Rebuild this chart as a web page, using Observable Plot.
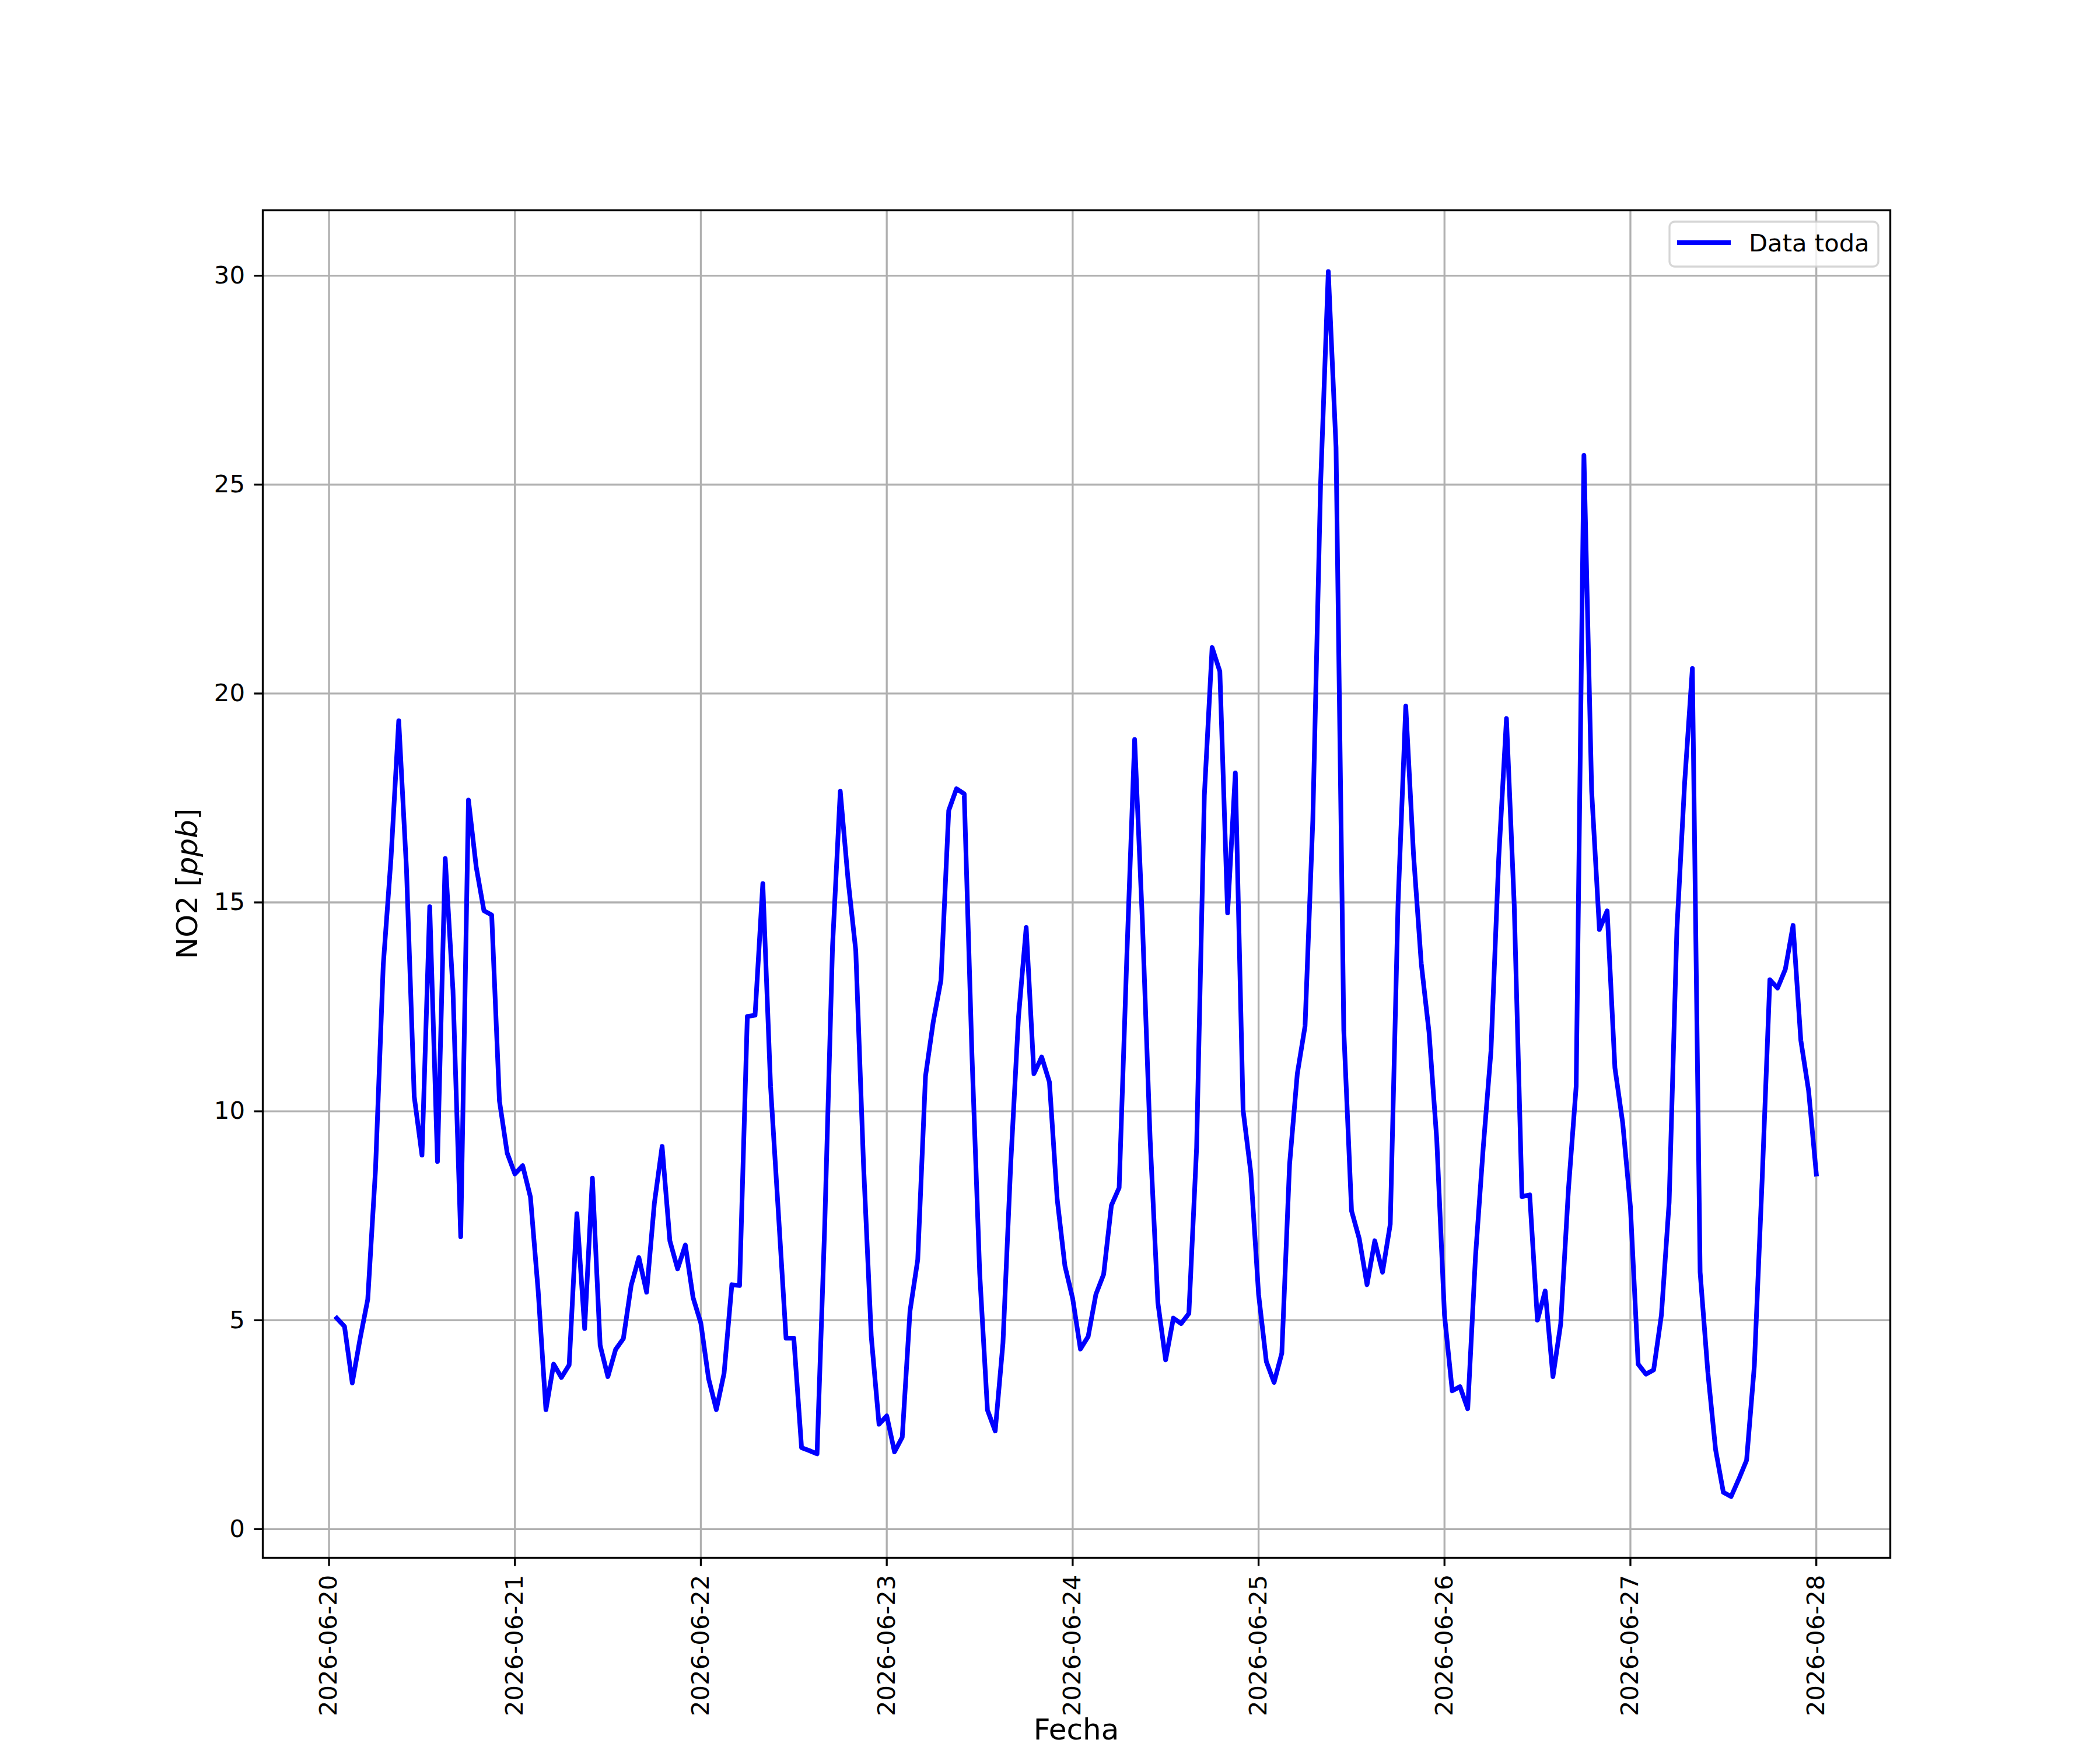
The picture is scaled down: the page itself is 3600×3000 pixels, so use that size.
<!DOCTYPE html>
<html>
<head>
<meta charset="utf-8">
<script src="https://cdn.jsdelivr.net/npm/d3@7"></script>
<script src="https://cdn.jsdelivr.net/npm/@observablehq/plot@0.6"></script>
<style>
  html, body { margin: 0; padding: 0; background: white; }
  #chart { width: 3600px; height: 3000px; }
</style>
</head>
<body>
<div id="chart"></div>
<script>
// Hourly NO2 values (ppb); each array holds 01:00 .. 24:00 of that date (UTC)
const no2_0620 = [5.05,4.85,3.5,4.55,5.5,8.6,13.5,16.05,19.35,15.8,10.35,8.95,14.9,8.8,16.05,12.9,7.0,17.45,15.85,14.8,14.7,10.25,9.0,8.5];
const no2_0621 = [8.7,7.95,5.7,2.86,3.95,3.63,3.93,7.55,4.8,8.4,4.4,3.65,4.3,4.56,5.83,6.5,5.67,7.8,9.16,6.9,6.23,6.8,5.54,4.93];
const no2_0622 = [3.6,2.86,3.73,5.85,5.83,12.27,12.3,15.45,10.6,7.6,4.57,4.57,1.95,1.88,1.8,7.32,13.95,17.66,15.55,13.85,8.73,4.61,2.51,2.71];
const no2_0623 = [1.85,2.2,5.22,6.45,10.84,12.14,13.14,17.2,17.72,17.6,11.34,6.12,2.85,2.35,4.45,8.73,12.24,14.4,10.9,11.3,10.7,7.9,6.3,5.52];
const no2_0624 = [4.31,4.61,5.62,6.1,7.75,8.17,13.75,18.9,14.55,9.33,5.42,4.05,5.05,4.92,5.16,9.13,17.56,21.1,20.53,14.75,18.1,10.03,8.53,5.62];
const no2_0625 = [4.01,3.51,4.21,8.73,10.9,12.04,16.96,24.98,30.1,25.89,11.94,7.62,6.95,5.85,6.9,6.15,7.3,14.95,19.7,16.15,13.54,11.9,9.33,5.12];
const no2_0626 = [3.31,3.41,2.88,6.52,9.13,11.44,16.05,19.4,14.95,7.96,8.0,5.0,5.7,3.65,4.91,8.13,10.6,25.7,17.66,14.35,14.8,11.04,9.73,7.72];
const no2_0627 = [3.95,3.71,3.81,5.12,7.82,14.35,17.86,20.6,6.15,3.75,1.9,0.88,0.78,1.2,1.65,3.91,8.33,13.15,12.95,13.4,14.45,11.7,10.5,8.5];

const dayStarts = ["2026-06-20","2026-06-21","2026-06-22","2026-06-23","2026-06-24","2026-06-25","2026-06-26","2026-06-27"];
const dayValues = [no2_0620,no2_0621,no2_0622,no2_0623,no2_0624,no2_0625,no2_0626,no2_0627];
const xTickLabels = ["2026-06-20","2026-06-21","2026-06-22","2026-06-23","2026-06-24","2026-06-25","2026-06-26","2026-06-27","2026-06-28"];
const yTicks = [0,5,10,15,20,25,30];
const seriesName = "Data toda";

const HOUR = 3600e3;
const data = [];
dayStarts.forEach((d, i) => {
  const base = Date.parse(d + "T00:00:00Z");
  dayValues[i].forEach((v, h) => data.push({t: new Date(base + (h + 1) * HOUR), v}));
});
const xTicks = xTickLabels.map(s => new Date(s + "T00:00:00Z"));

// matplotlib-style 5% margins
const t0 = +data[0].t, t1 = +data[data.length - 1].t;
const xPad = (t1 - t0) * 0.05;
const vMin = d3.min(data, d => d.v), vMax = d3.max(data, d => d.v);
const yPad = (vMax - vMin) * 0.05;

const W = 3600, H = 3000;
const mL = 450, mR = 360, mT = 360, mB = 330;
const lw = 3.33;
const font = "DejaVu Sans";

const chart = Plot.plot({
  width: W, height: H,
  marginLeft: mL, marginRight: mR, marginTop: mT, marginBottom: mB,
  style: {fontFamily: font, fontSize: "41.7px", background: "white", color: "black", overflow: "visible"},
  x: {type: "utc", domain: [new Date(t0 - xPad), new Date(t1 + xPad)]},
  y: {domain: [vMin - yPad, vMax + yPad]},
  marks: [
    Plot.gridX(xTicks, {stroke: "#b0b0b0", strokeOpacity: 1, strokeWidth: lw}),
    Plot.gridY(yTicks, {stroke: "#b0b0b0", strokeOpacity: 1, strokeWidth: lw}),
    Plot.line(data, {x: "t", y: "v", stroke: "#0000ff", strokeWidth: 8, strokeLinejoin: "round", strokeLinecap: "square"}),
    Plot.frame({stroke: "black", strokeWidth: lw}),
    Plot.axisX(xTicks, {tickFormat: "%Y-%m-%d", tickRotate: -90, tickSize: 14.6, tickPadding: 14.6, strokeWidth: lw, label: null, fontSize: 41.7}),
    Plot.axisY(yTicks, {tickFormat: d => String(d), tickSize: 14.6, tickPadding: 16, strokeWidth: lw, label: null, fontSize: 41.7})
  ]
});

document.getElementById("chart").appendChild(chart);

const svg = d3.select(chart);
// y label with italic unit
const yl = svg.append("text")
  .attr("transform", `translate(338,${mT + (H - mT - mB) / 2}) rotate(-90)`)
  .attr("text-anchor", "middle")
  .attr("font-family", font)
  .attr("font-size", 50)
  .attr("fill", "black");
yl.append("tspan").text("NO2 [");
yl.append("tspan").attr("font-style", "italic").text("ppb");
yl.append("tspan").text("]");

// x label
svg.append("text")
  .attr("x", mL + (W - mL - mR) / 2)
  .attr("y", 2982)
  .attr("text-anchor", "middle")
  .attr("font-family", font)
  .attr("font-size", 50)
  .attr("fill", "black")
  .text("Fecha");

// legend (upper right)
const right = W - mR;
const lg = svg.append("g");
lg.append("rect")
  .attr("x", right - 378).attr("y", mT + 20)
  .attr("width", 358).attr("height", 77)
  .attr("rx", 9).attr("ry", 9)
  .attr("fill", "white").attr("fill-opacity", 0.8)
  .attr("stroke", "#cccccc").attr("stroke-opacity", 0.8).attr("stroke-width", lw);
lg.append("line")
  .attr("x1", right - 365).attr("x2", right - 273)
  .attr("y1", mT + 56).attr("y2", mT + 56)
  .attr("stroke", "#0000ff").attr("stroke-width", 8);
lg.append("text")
  .attr("x", right - 242).attr("y", mT + 71)
  .attr("text-anchor", "start")
  .attr("font-family", font).attr("font-size", 41.7).attr("fill", "black")
  .text(seriesName);
</script>
</body>
</html>
